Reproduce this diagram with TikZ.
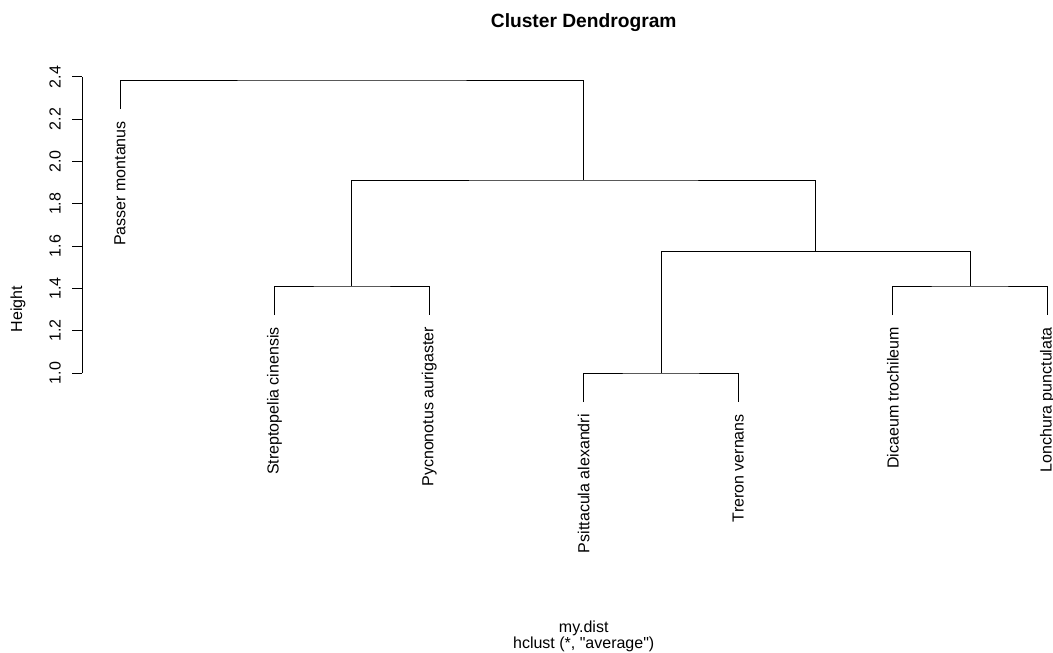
\documentclass[tikz,border=0pt]{standalone}
\usepackage{fontspec}
\setmainfont{Liberation Sans}[Ligatures=TeXOff]
\usetikzlibrary{positioning}
\tikzstyle{branch} = [line width=0.75pt, draw=black]
\tikzstyle{leaf} = [rotate=90, anchor=east, inner sep=0pt, 
font=\fontsize{12}{14}\selectfont]
\tikzstyle{ticklab} = [rotate=90, inner sep=0pt, 
font=\fontsize{12}{14}\selectfont]
\tikzstyle{plain} = [inner sep=0pt, anchor=base, 
font=\fontsize{12}{14}\selectfont]

\begin{document}
\begin{tikzpicture}[x=0.75pt, y=-0.75pt]
		\useasboundingbox (0,0) rectangle (1053,653);
		
		% leaf tips
		\coordinate (pm) at (120,109);
		\coordinate (sc) at (274.6,315);
		\coordinate (pa) at (429.2,315);
		\coordinate (px) at (583.7,402);
		\coordinate (tv) at (738.3,402);
		\coordinate (dt) at (892.9,315);
		\coordinate (lp) at (1047.5,315);
		
		% merges
		\coordinate (m1) at (351.9,286);
		\coordinate (m2) at (661,373);
		\coordinate (m3) at (970.2,286);
		\coordinate (m4) at (815.6,251.5);
		\coordinate (m5) at (583.7,180);
		\coordinate (m6) at (351.9,80);
		
		% leaf labels
		\node (pmlab) [leaf] at (120,121) {Passer montanus};
		\node (sclab) [leaf] at (274.6,327) {Streptopelia cinensis};
		\node (palab) [leaf] at (429.2,327) {Pycnonotus aurigaster};
		\node (pxlab) [leaf] at (583.7,414) {Psittacula alexandri};
		\node (tvlab) [leaf] at (738.3,414) {Treron vernans};
		\node (dtlab) [leaf] at (892.9,327) {Dicaeum trochileum};
		\node (lplab) [leaf] at (1047.5,327) {Lonchura punctulata};
		
		\draw [branch] (sc) |- (m1) -| (pa);
		\draw [branch] (px) |- (m2) -| (tv);
		\draw [branch] (dt) |- (m3) -| (lp);
		\draw [branch] (m2) |- (m4) -| (m3);
		\draw [branch] (m1) |- (m5) -| (m4);
		\draw [branch] (pm) |- (m6) -| (m5);
		
		% axis
		\coordinate (ax0) at (82,373);
		\coordinate (ax1) at (82,76.9);
		\draw [branch] (ax0) -- (ax1);
		\foreach \yy/\lab in {373/1.0, 330.7/1.2, 288.4/1.4, 246.1/1.6, 203.8/1.8, 161.5/2.0, 119.2/2.2, 76.9/2.4}{
			\draw [branch] (82,\yy) -- (72,\yy);
			\node (t\lab) [ticklab] at (55,\yy) {\lab};
		}
		\node (ylab) [ticklab] at (18,309) {Height};
		
		\node (title) [inner sep=0pt, anchor=base, font=\fontsize{14.4}{17}\bfseries] at (583.7,27) {Cluster Dendrogram};
		\node (sub1) [plain] at (583.7,632) {my.dist};
		\node (sub2) [plain] at (583.7,648) {hclust (*, "average")};
		
	\end{tikzpicture}
\end{document}
